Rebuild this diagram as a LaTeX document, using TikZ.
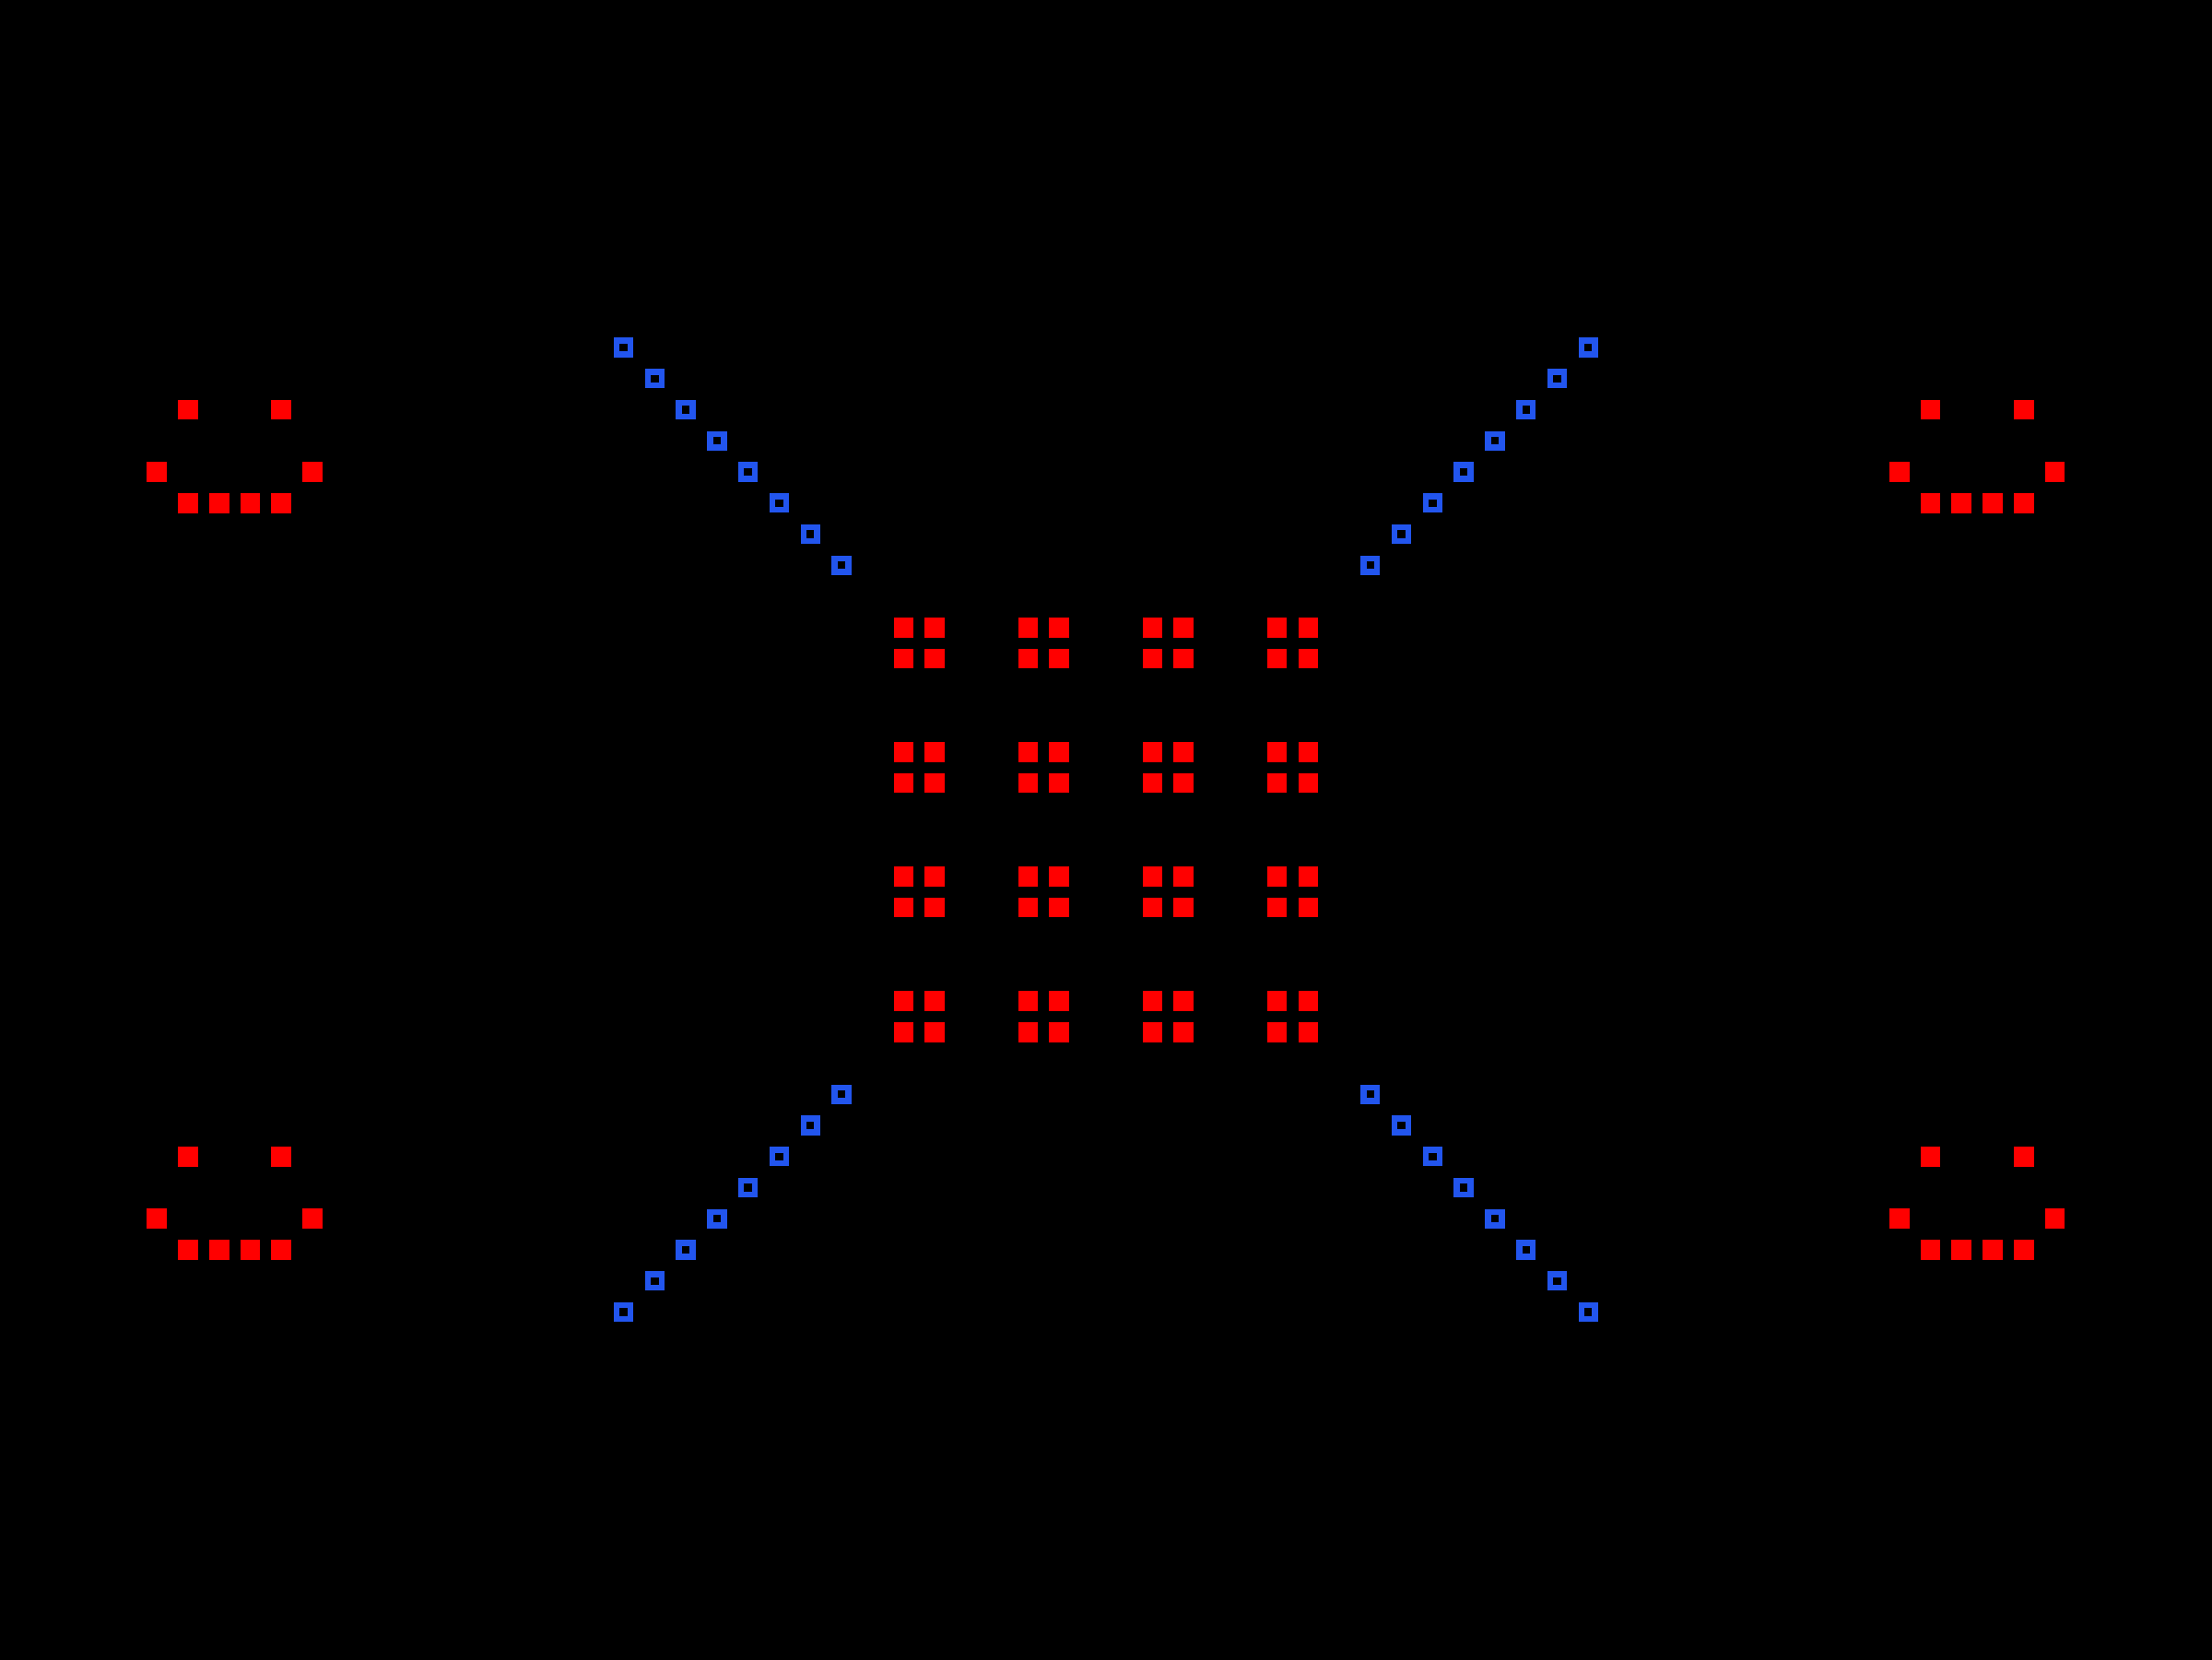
\documentclass[tikz,border=0pt]{standalone}
\definecolor{sqblue}{RGB}{34,85,238}
\begin{document}
\begin{tikzpicture}[x=0.3376cm,y=-0.3376cm,
  redsq/.style={rectangle,fill=red,minimum size=0.216cm,inner sep=0pt},
  bluesq/.style={rectangle,draw=sqblue,line width=0.065cm,minimum size=0.148cm,inner sep=0pt}]
\fill[black] (-5.0415,-11.1671) rectangle (66.0485,42.1801);
% smileys
\foreach \ox/\oy/\s in {0/0/a,56/0/b,0/24/c,56/24/d}{
  \foreach \px/\py [count=\k] in {1/2,4/2,0/4,5/4,1/5,2/5,3/5,4/5}{
    \node[redsq] (sm-\s-\k) at (\ox+\px,\oy+\py) {};
  }
}
% central red grid
\foreach \c in {24,25,28,29,32,33,36,37}{
  \foreach \r in {9,10,13,14,17,18,21,22}{
    \node[redsq] (r-\c-\r) at (\c,\r) {};
  }
}
% blue diagonals
\foreach \i in {0,...,7}{
  \node[bluesq] (b-tl-\i) at (15+\i,\i) {};
  \node[bluesq] (b-tr-\i) at (46-\i,\i) {};
  \node[bluesq] (b-bl-\i) at (22-\i,24+\i) {};
  \node[bluesq] (b-br-\i) at (39+\i,24+\i) {};
}
\end{tikzpicture}
\end{document}
